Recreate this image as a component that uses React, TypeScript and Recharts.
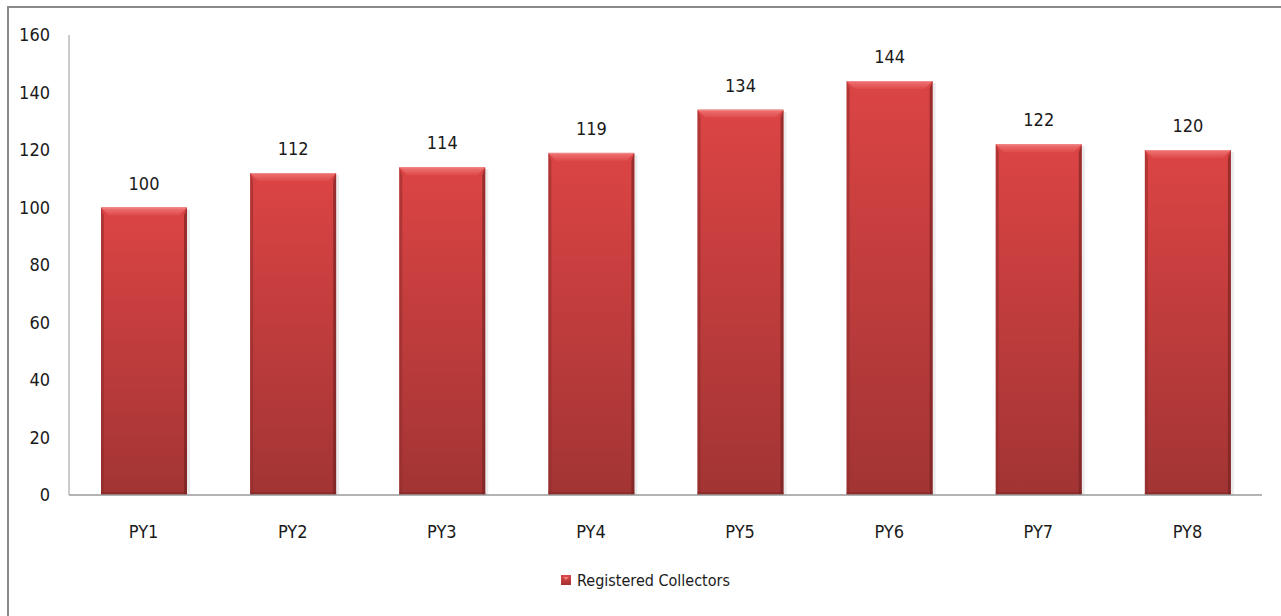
import React from 'react';
import { BarChart, Bar, XAxis, YAxis, LabelList, Legend } from 'recharts';

const categories = ['PY1', 'PY2', 'PY3', 'PY4', 'PY5', 'PY6', 'PY7', 'PY8'];
const registeredCollectors = [100, 112, 114, 119, 134, 144, 122, 120];
const yTicks = [0, 20, 40, 60, 80, 100, 120, 140, 160];
const seriesName = 'Registered Collectors';

const data = categories.map((name, i) => ({ name, value: registeredCollectors[i] }));

const FONT = '"DejaVu Sans Condensed", "Liberation Sans Narrow", sans-serif';
const TEXT = '#1a1a1a';

// Bevelled column: vertical red gradient with a lit top edge and shaded sides.
const BevelBar = (props: any) => {
  const { x, y, width, height } = props;
  if (!height || height <= 0) return null;
  const b = 8;
  const s = 3;
  return (
    <g>
      <rect x={x + width} y={y + 2} width={3} height={height - 2} fill="#000" opacity={0.08} />
      <rect x={x} y={y} width={width} height={height} fill="url(#barBody)" />
      <polygon
        points={`${x},${y} ${x + width},${y} ${x + width - b},${y + b} ${x + b},${y + b}`}
        fill="url(#barTop)"
      />
      <polygon
        points={`${x},${y} ${x + s},${y + b} ${x + s},${y + height} ${x},${y + height}`}
        fill="#8f2c2c"
        opacity={0.55}
      />
      <polygon
        points={`${x + width},${y} ${x + width - s},${y + b} ${x + width - s},${y + height} ${x + width},${y + height}`}
        fill="#6e1f1f"
        opacity={0.6}
      />
      <rect x={x} y={y + height - 3} width={width} height={3} fill="#7a2424" opacity={0.45} />
      <line x1={x + 1} y1={y + 0.5} x2={x + width - 1} y2={y + 0.5} stroke="#f08a8a" strokeWidth={1} />
    </g>
  );
};

const LegendContent = () => (
  <div
    style={{
      display: 'flex',
      justifyContent: 'center',
      alignItems: 'center',
      height: 20,
      fontFamily: FONT,
      fontSize: 16,
      color: TEXT,
      paddingLeft: 0,
    }}
  >
    <svg width={10} height={10} style={{ marginRight: 6 }}>
      <rect x={0} y={0} width={10} height={10} fill="url(#legendSwatch)" />
      <polygon points="2,2 8,2 5,5" fill="#f08080" />
    </svg>
    <span>{seriesName}</span>
  </div>
);

export default function App() {
  return (
    <div
      style={{
        position: 'absolute',
        left: 7,
        top: 6,
        width: 1272,
        height: 608,
        borderTop: '2px solid #8a8a8a',
        borderLeft: '2px solid #8a8a8a',
        background: '#fff',
      }}
    >
      <svg width={0} height={0} style={{ position: 'absolute' }}>
        <defs>
          <linearGradient id="legendSwatch" x1="0" y1="0" x2="0" y2="1">
            <stop offset="0%" stopColor="#e04848" />
            <stop offset="100%" stopColor="#a33131" />
          </linearGradient>
        </defs>
      </svg>
      <BarChart
        width={1272}
        height={608}
        data={data}
        margin={{ top: 27, right: 19, left: 20, bottom: 71 }}
        barSize={86}
      >
        <defs>
          <linearGradient id="barBody" x1="0" y1="0" x2="0" y2="1">
            <stop offset="0%" stopColor="#dc4444" />
            <stop offset="100%" stopColor="#a23434" />
          </linearGradient>
          <linearGradient id="barTop" x1="0" y1="0" x2="0" y2="1">
            <stop offset="0%" stopColor="#f07474" />
            <stop offset="100%" stopColor="#de4a4a" />
          </linearGradient>
        </defs>
        <XAxis
          dataKey="name"
          axisLine={{ stroke: '#9a9a9a', strokeWidth: 1.5 }}
          tickLine={false}
          tickSize={6}
          tickMargin={24}
          tick={{ fill: TEXT, fontFamily: FONT, fontSize: 18 }}
          interval={0}
          height={30}
        />
        <YAxis
          domain={[0, 160]}
          ticks={yTicks}
          width={40}
          axisLine={{ stroke: '#9a9a9a', strokeWidth: 1 }}
          tickLine={false}
          tickSize={6}
          tickMargin={13}
          tick={{ fill: TEXT, fontFamily: FONT, fontSize: 18 }}
          interval={0}
        />
        <Legend
          verticalAlign="bottom"
          height={20}
          content={<LegendContent />}
          wrapperStyle={{ bottom: 26 }}
        />
        <Bar dataKey="value" name={seriesName} shape={<BevelBar />} isAnimationActive={false}>
          <LabelList
            dataKey="value"
            position="top"
            offset={18}
            style={{ fill: TEXT, fontFamily: FONT, fontSize: 18 }}
          />
        </Bar>
      </BarChart>
    </div>
  );
}
